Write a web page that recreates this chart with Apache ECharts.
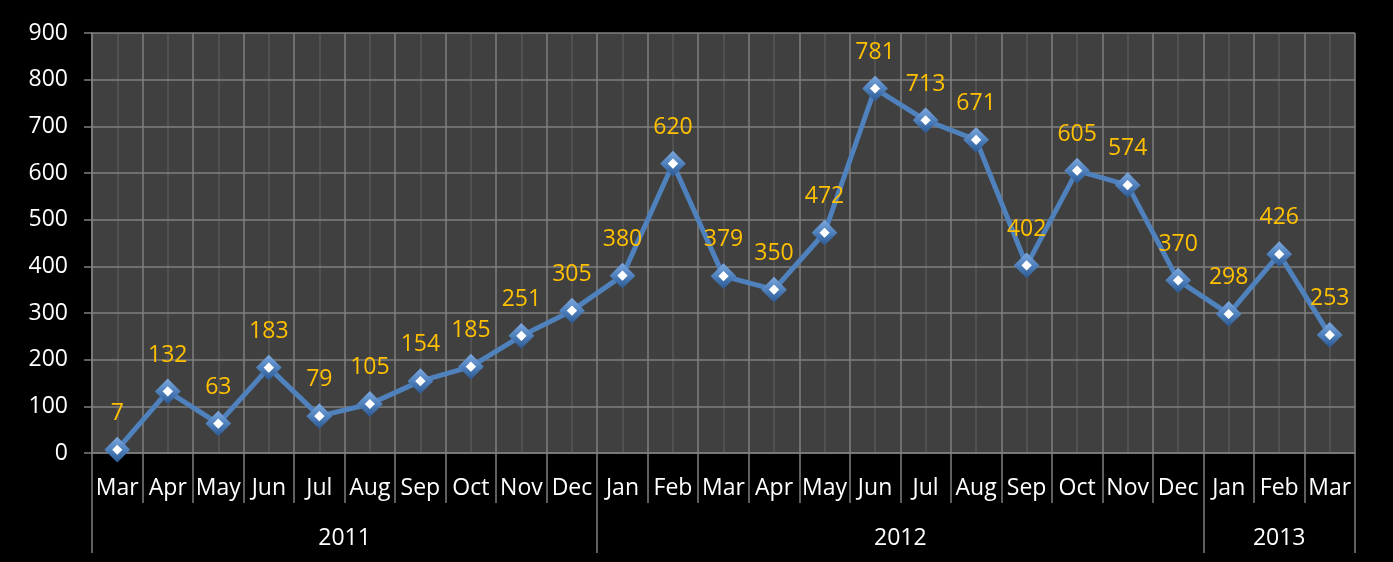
<!DOCTYPE html>
<html>
<head>
<meta charset="utf-8">
<script src="https://cdn.jsdelivr.net/npm/echarts@6/dist/echarts.min.js"></script>
<style>
html,body{margin:0;padding:0;background:#000;}
#c{width:1393px;height:562px;}
</style>
</head>
<body>
<div id="c"></div>
<script>
const months = ['Mar','Apr','May','Jun','Jul','Aug','Sep','Oct','Nov','Dec',
  'Jan','Feb','Mar','Apr','May','Jun','Jul','Aug','Sep','Oct','Nov','Dec',
  'Jan','Feb','Mar'];
const values = [7,132,63,183,79,105,154,185,251,305,380,620,379,350,472,781,713,671,402,605,574,370,298,426,253];
const years = ['2011','2012','2013'];
const yearBounds = [0,10,22,25];
const yearCenters = [5,16,23.5];
const yTicks = {min:0, max:900, interval:100};

const FONT = '"Open Sans", sans-serif';
const GRID_LIGHT = '#7f7f7f';
const GRID_DARK = '#575757';

const chart = echarts.init(document.getElementById('c'), null, {renderer:'canvas'});
chart.setOption({
  backgroundColor:'#000',
  animation:false,
  grid:{left:92,right:38,top:33,bottom:109,show:true,backgroundColor:'#404040',borderWidth:0},
  xAxis:[
    {
      type:'category', data:months, boundaryGap:true, position:'bottom',
      axisLine:{show:true,lineStyle:{color:GRID_LIGHT,width:1.5}},
      axisTick:{show:true,interval:0,length:50,lineStyle:{color:GRID_LIGHT,width:1.5}},
      axisLabel:{interval:0,color:'#fff',fontSize:23,fontFamily:FONT,margin:24},
      splitLine:{show:false},
      z:3
    },
    {
      type:'value', min:0, max:25, position:'bottom',
      axisLine:{show:false},
      axisTick:{show:true,length:100,customValues:yearBounds,lineStyle:{color:GRID_LIGHT,width:1.5}},
      axisLabel:{show:true,customValues:yearCenters,color:'#fff',fontSize:23,fontFamily:FONT,margin:74,
        formatter:function(v){const i=yearCenters.indexOf(v);return i>=0?years[i]:'';}},
      splitLine:{show:false},
      z:3
    },
    {
      type:'value', min:0, max:25, interval:1, position:'top', show:true,
      axisLine:{show:false}, axisTick:{show:false}, axisLabel:{show:false},
      splitLine:{show:true,lineStyle:{color:GRID_LIGHT,width:1.5}},
      minorTick:{show:false,splitNumber:2},
      minorSplitLine:{show:true,lineStyle:{color:GRID_DARK,width:1.5}}
    }
  ],
  yAxis:{
    type:'value', min:yTicks.min, max:yTicks.max, interval:yTicks.interval,
    axisLine:{show:true,lineStyle:{color:GRID_LIGHT,width:1.5}},
    axisTick:{show:true,length:8,lineStyle:{color:GRID_LIGHT,width:1.5}},
    axisLabel:{color:'#fff',fontSize:23,fontFamily:FONT,margin:24},
    splitLine:{show:true,lineStyle:{color:GRID_LIGHT,width:1.5}},
    z:2
  },
  series:[{
    type:'line', xAxisIndex:0, data:values,
    lineStyle:{color:'#4F81BD',width:5},
    symbol:'diamond', symbolSize:18, showAllSymbol:true,
    itemStyle:{color:'#fff',borderColor:{type:'linear',x:0,y:0,x2:0,y2:1,colorStops:[{offset:0,color:'#7aa5dc'},{offset:0.5,color:'#4F81BD'},{offset:1,color:'#2f5c95'}]},borderWidth:5.5},
    label:{show:true,position:'top',distance:13,color:'#FFC000',fontSize:23,fontFamily:FONT},
    z:5
  }]
});
</script>
</body>
</html>
